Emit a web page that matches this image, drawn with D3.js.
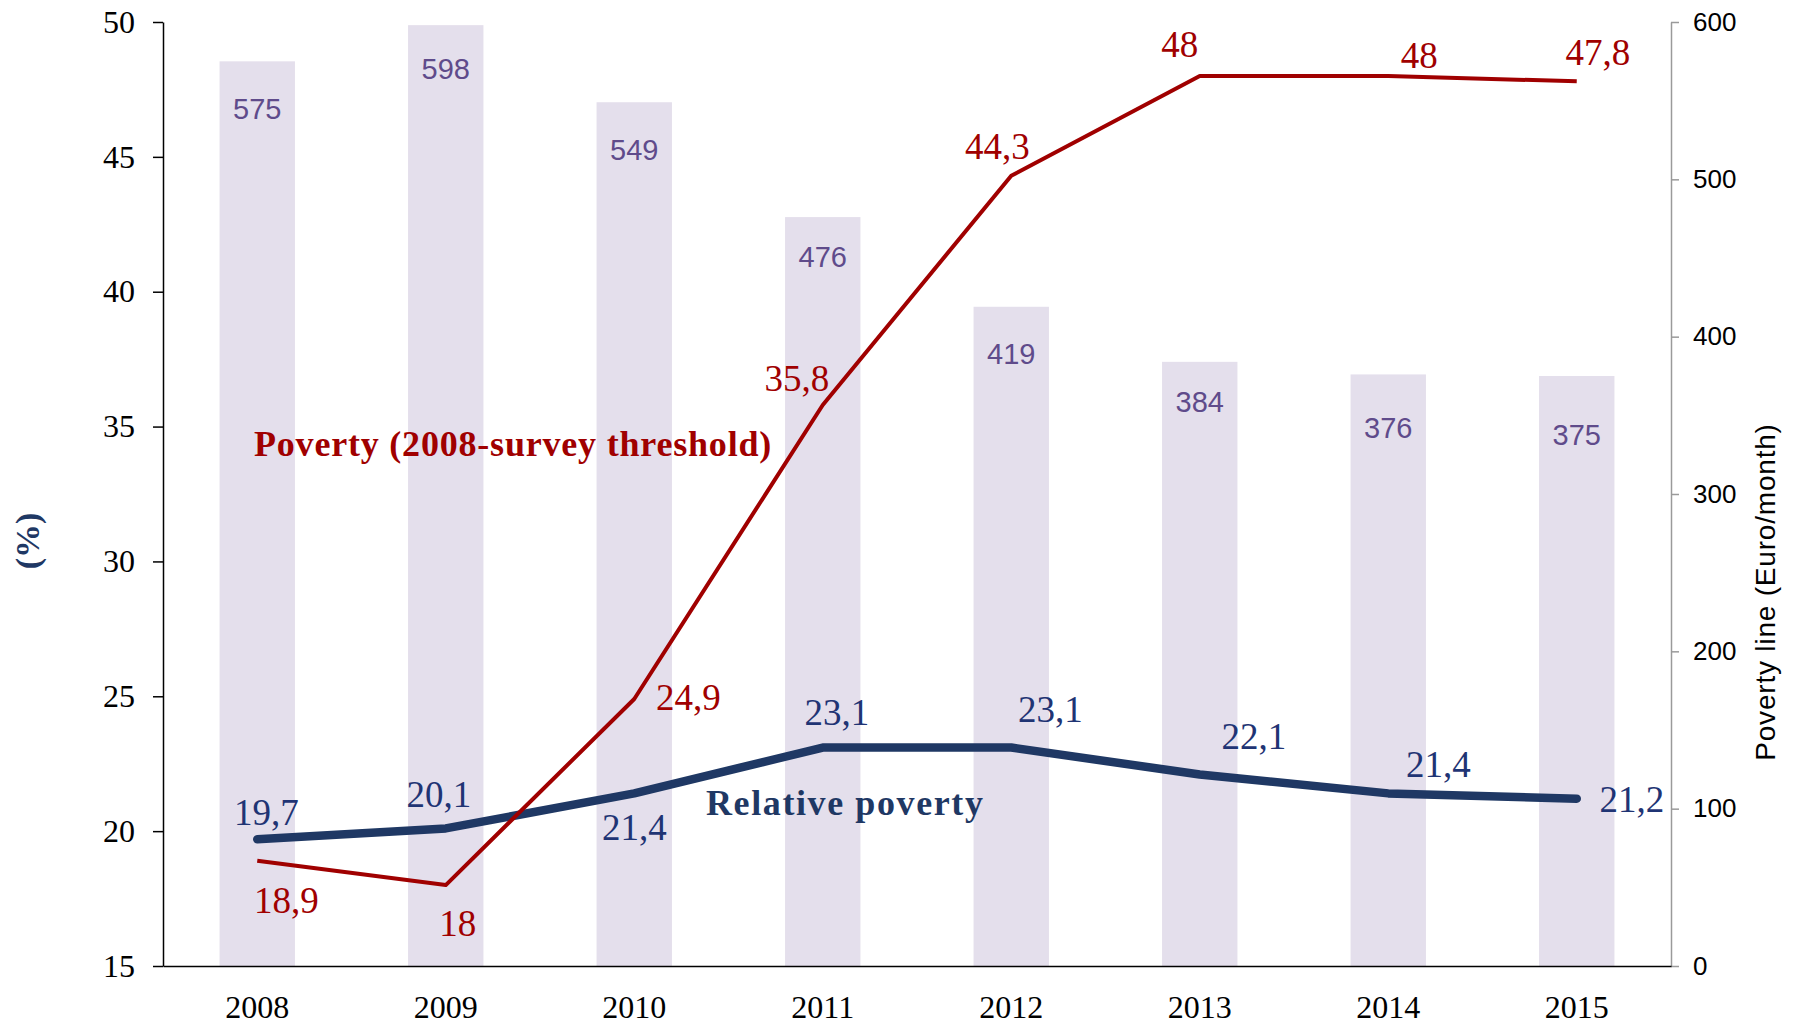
<!DOCTYPE html>
<html>
<head>
<meta charset="utf-8">
<script src="https://d3js.org/d3.v7.min.js"></script>
<style>
    body {
        margin: 0;
        background-color: white;
    }

    svg {
        display: block;
    }
</style>
</head>
<body>
<svg></svg>
<script>
    const years = ["2008", "2009", "2010", "2011", "2012", "2013", "2014", "2015"];
    const povertyLine = [575, 598, 549, 476, 419, 384, 376, 375];
    const poverty2008 = [18.9, 18, 24.9, 35.8, 44.3, 48, 48, 47.8];
    const relativePoverty = [19.7, 20.1, 21.4, 23.1, 23.1, 22.1, 21.4, 21.2];
    const leftTicks = [15, 20, 25, 30, 35, 40, 45, 50];
    const rightTicks = [0, 100, 200, 300, 400, 500, 600];

    // where each value label sits relative to its point / bar top, in px
    const redOffsets = [[29, 39], [12, 38], [54, -2], [-26, -27], [-14, -30], [-20, -32], [31, -21], [21, -29]];
    const blueOffsets = [[9, -27], [-7, -34], [0, 34], [14, -35], [39, -38], [54, -38], [50, -29], [55, 0]];
    const barLabelDrop = [48, 44, 48, 40, 47, 40, 53, 59];

    const SERIF = '"Liberation Serif", "Times New Roman", serif';
    const SANS = '"Liberation Sans", Arial, sans-serif';

    function createVis() {
        let width = 1797;
        let height = 1024;
        let left = 163, right = 1671, top = 22, bottom = 966;

        let svg = d3.select("svg")
            .attr("width", width)
            .attr("height", height);

        let xScale = d3.scaleBand()
            .domain(years)
            .range([left, right])
            .paddingInner(0.6)
            .paddingOuter(0.3);

        let yLeft = d3.scaleLinear()
            .domain([15, 50])
            .range([bottom, top]);

        let yRight = d3.scaleLinear()
            .domain([0, 600])
            .range([bottom, top]);

        let fmt = v => String(v).replace(".", ",");

        // bars (poverty line, right axis)
        svg.selectAll(".bar")
            .data(povertyLine)
            .join("rect")
            .attr("class", "bar")
            .attr("x", (d, i) => xScale(years[i]))
            .attr("width", xScale.bandwidth())
            .attr("y", d => yRight(d))
            .attr("height", d => bottom - yRight(d))
            .attr("fill", "#e4dfec");

        svg.selectAll(".barLabel")
            .data(povertyLine)
            .join("text")
            .attr("class", "barLabel")
            .attr("x", (d, i) => xScale(years[i]) + xScale.bandwidth() / 2)
            .attr("y", (d, i) => yRight(d) + barLabelDrop[i])
            .attr("dy", "0.35em")
            .attr("text-anchor", "middle")
            .style("font-family", SANS)
            .style("font-size", "29px")
            .attr("fill", "#5f4b8b")
            .text(d => d);

        // axes
        let leftAxis = svg.append("g")
            .attr("transform", `translate(${left},0)`)
            .call(d3.axisLeft(yLeft).tickValues(leftTicks).tickSize(10).tickSizeOuter(0).tickPadding(18));
        leftAxis.selectAll("text").style("font-family", SERIF).style("font-size", "32px").attr("fill", "#000");
        leftAxis.selectAll("path, line").attr("stroke", "#000").attr("stroke-width", 1.5);

        let rightAxis = svg.append("g")
            .attr("transform", `translate(${right},0)`)
            .call(d3.axisRight(yRight).tickValues(rightTicks).tickSize(8).tickSizeOuter(0).tickPadding(14));
        rightAxis.selectAll("text").style("font-family", SANS).style("font-size", "26px").attr("fill", "#000");
        rightAxis.selectAll("path, line").attr("stroke", "#9a9a9a").attr("stroke-width", 1.5);

        let bottomAxis = svg.append("g")
            .attr("transform", `translate(0,${bottom})`)
            .call(d3.axisBottom(xScale).tickSize(0).tickSizeOuter(0).tickPadding(29));
        bottomAxis.selectAll("text").style("font-family", SERIF).style("font-size", "32px").attr("fill", "#000");
        bottomAxis.selectAll("path").attr("stroke", "#000").attr("stroke-width", 1.5);

        // lines
        let cx = i => xScale(years[i]) + xScale.bandwidth() / 2;

        let line = d3.line()
            .x((d, i) => cx(i))
            .y(d => yLeft(d));

        svg.append("path")
            .datum(relativePoverty)
            .attr("d", line)
            .attr("fill", "none")
            .attr("stroke", "#1f3864")
            .attr("stroke-width", 8.5)
            .attr("stroke-linecap", "round")
            .attr("stroke-linejoin", "round");

        svg.append("path")
            .datum(poverty2008)
            .attr("d", line)
            .attr("fill", "none")
            .attr("stroke", "#a00000")
            .attr("stroke-width", 4)
            .attr("stroke-linejoin", "round");

        // value labels
        svg.selectAll(".blueLabel")
            .data(relativePoverty)
            .join("text")
            .attr("class", "blueLabel")
            .attr("x", (d, i) => cx(i) + blueOffsets[i][0])
            .attr("y", (d, i) => yLeft(d) + blueOffsets[i][1])
            .attr("dy", "0.35em")
            .attr("text-anchor", "middle")
            .style("font-family", SERIF)
            .style("font-size", "37px")
            .attr("fill", "#1f3474")
            .text(fmt);

        svg.selectAll(".redLabel")
            .data(poverty2008)
            .join("text")
            .attr("class", "redLabel")
            .attr("x", (d, i) => cx(i) + redOffsets[i][0])
            .attr("y", (d, i) => yLeft(d) + redOffsets[i][1])
            .attr("dy", "0.35em")
            .attr("text-anchor", "middle")
            .style("font-family", SERIF)
            .style("font-size", "37px")
            .attr("fill", "#a00000")
            .text(fmt);

        // series names
        svg.append("text")
            .attr("x", 254)
            .attr("y", 456)
            .style("font-family", SERIF)
            .style("font-size", "36px")
            .style("font-weight", "bold")
            .attr("letter-spacing", 0.8)
            .attr("fill", "#a00000")
            .text("Poverty (2008-survey threshold)");

        svg.append("text")
            .attr("x", 706)
            .attr("y", 815)
            .style("font-family", SERIF)
            .style("font-size", "36px")
            .style("font-weight", "bold")
            .attr("letter-spacing", 1.6)
            .attr("fill", "#1f3864")
            .text("Relative poverty");

        // axis titles
        svg.append("text")
            .attr("transform", "translate(27,541) rotate(-90)")
            .attr("dy", "0.35em")
            .attr("text-anchor", "middle")
            .style("font-family", SERIF)
            .style("font-size", "34px")
            .style("font-weight", "bold")
            .attr("fill", "#1f3864")
            .text("(%)");

        svg.append("text")
            .attr("transform", "translate(1765,592) rotate(-90)")
            .attr("dy", "0.35em")
            .attr("text-anchor", "middle")
            .style("font-family", SANS)
            .style("font-size", "28px")
            .attr("letter-spacing", 0.8)
            .attr("fill", "#000")
            .text("Poverty line (Euro/month)");
    }
    createVis();
</script>
</body>
</html>
